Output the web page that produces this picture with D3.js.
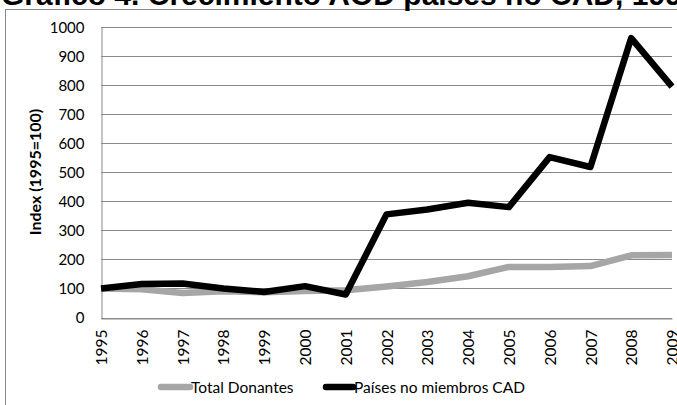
<!DOCTYPE html>
<html>
<head>
<meta charset="utf-8">
<script src="https://cdn.jsdelivr.net/npm/d3@7"></script>
<style>
  body { margin: 0; background: white; }
  svg { display: block; }
</style>
</head>
<body>
<div id="chart"></div>
<script>
const years = ["1995", "1996", "1997", "1998", "1999", "2000", "2001", "2002",
               "2003", "2004", "2005", "2006", "2007", "2008", "2009"];
const totalDonantes = [100, 97, 84, 90, 87, 91, 94, 107, 122, 142, 174, 174, 177, 214, 215];
const noCAD = [100, 115, 117, 100, 88, 108, 79, 355, 372, 395, 380, 552, 518, 962, 795];
const yTicks = [0, 100, 200, 300, 400, 500, 600, 700, 800, 900, 1000];
const seriesNames = ["Total Donantes", "Países no miembros CAD"];

const width = 677;
const height = 405;
const gridColor = "#898989";
const grayLine = "#a6a6a6";
const labelFont = "Lato, 'Open Sans', sans-serif";

const svg = d3.select("#chart")
    .append("svg")
    .attr("width", width)
    .attr("height", height);

// outer chart frame (right and bottom fall outside the picture)
svg.append("rect")
    .attr("x", 5.5)
    .attr("y", 9.5)
    .attr("width", 700)
    .attr("height", 420)
    .attr("fill", "none")
    .attr("stroke", gridColor);

// title is cut off by the top edge, as in the source
svg.append("text")
    .attr("x", 1)
    .attr("y", 5)
    .attr("font-family", "'Liberation Sans', Arial, sans-serif")
    .attr("font-weight", "bold")
    .attr("font-size", "30px")
    .attr("fill", "black")
    .text("Gráfico 4. Crecimiento AOD países no CAD, 1995-2009");

const x = d3.scalePoint().domain(years).range([101, 672]);
const y = d3.scaleLinear().domain([0, 1000]).range([317.5, 27]);

// gridlines
svg.append("g")
    .selectAll("line")
    .data(yTicks)
    .enter()
    .append("line")
    .attr("x1", 101)
    .attr("x2", 672)
    .attr("y1", d => Math.round(y(d)) + 0.5)
    .attr("y2", d => Math.round(y(d)) + 0.5)
    .attr("stroke", gridColor)
    .attr("stroke-width", 1);

// y axis
const yAxis = svg.append("g")
    .attr("transform", "translate(101.5,0)")
    .call(d3.axisLeft(y).tickValues(yTicks).tickFormat(d3.format("d")).tickSize(0).tickPadding(17));
yAxis.select(".domain").attr("stroke", gridColor);
yAxis.selectAll("text")
    .attr("font-family", labelFont)
    .attr("font-size", "15px")
    .attr("fill", "black")
    .attr("dy", "0.36em");

// x axis
const xAxis = svg.append("g")
    .attr("transform", `translate(0,${Math.round(y(0)) + 0.5})`)
    .call(d3.axisBottom(x).tickSize(0).tickPadding(0));
xAxis.select(".domain").attr("stroke", gridColor);
xAxis.selectAll("text")
    .attr("font-family", labelFont)
    .attr("font-size", "15.5px")
    .attr("fill", "black")
    .attr("text-anchor", "end")
    .attr("transform", "rotate(-90)")
    .attr("x", -11)
    .attr("y", 0)
    .attr("dy", "0.36em");

svg.append("text")
    .attr("transform", "translate(41,172) rotate(-90)")
    .attr("text-anchor", "middle")
    .attr("font-family", labelFont)
    .attr("font-weight", "bold")
    .attr("font-size", "16px")
    .attr("fill", "black")
    .text("Index (1995=100)");

const line = d3.line()
    .x((d, i) => x(years[i]))
    .y(d => y(d));

svg.append("path")
    .datum(totalDonantes)
    .attr("d", line)
    .attr("fill", "none")
    .attr("stroke", grayLine)
    .attr("stroke-width", 6.5)
    .attr("stroke-linejoin", "round");

svg.append("path")
    .datum(noCAD)
    .attr("d", line)
    .attr("fill", "none")
    .attr("stroke", "black")
    .attr("stroke-width", 6.5)
    .attr("stroke-linejoin", "round");

// legend
const legend = [
    { name: seriesNames[0], color: grayLine, x0: 161, x1: 190 },
    { name: seriesNames[1], color: "black", x0: 326, x1: 353 }
];
const lg = svg.append("g");
lg.selectAll("line")
    .data(legend)
    .enter()
    .append("line")
    .attr("x1", d => d.x0)
    .attr("x2", d => d.x1)
    .attr("y1", 387)
    .attr("y2", 387)
    .attr("stroke", d => d.color)
    .attr("stroke-width", 6.5)
    .attr("stroke-linecap", "round");
lg.selectAll("text")
    .data(legend)
    .enter()
    .append("text")
    .attr("x", d => d.x1 + 1)
    .attr("y", 387)
    .attr("dy", "0.36em")
    .attr("font-family", labelFont)
    .attr("font-size", "15.5px")
    .attr("fill", "black")
    .text(d => d.name);
</script>
</body>
</html>
